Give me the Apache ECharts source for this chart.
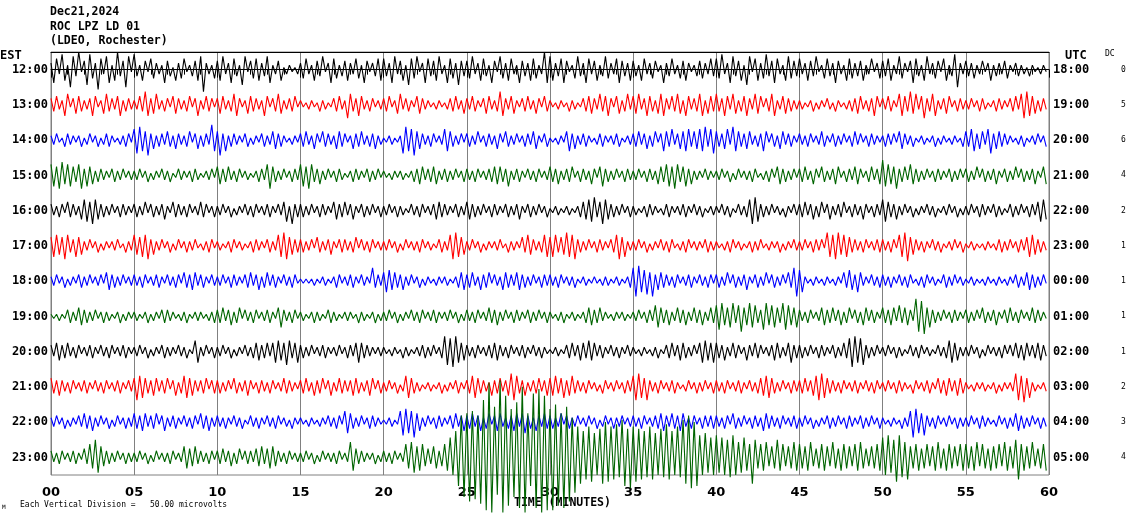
<!DOCTYPE html>
<html>
<head>
<meta charset="utf-8">
<script src="https://cdn.jsdelivr.net/npm/echarts@6/dist/echarts.min.js"></script>
<style>
	html, body { margin: 0; padding: 0; background: #fff; }
	#chart { width: 1130px; height: 519px; }
</style>
</head>
<body>
<div id="chart"></div>
<script>
// helicorder traces, one string per 5 minute division, one char per sample
// char -> amplitude step: 'a'..'z' = -1..-26, '0'..'9' = 0..9, 'A'..'Z' = 10..35 (positive = up)
const row12 = ['3f5b7e2h6c8a4g7d3i5b6f2e8c4h6a', '7c2e4a5d3b2f4c1e3d5a2c4e6j3b2d', '4e6b3f5c2g6a4d5e3c6f2b4e1b2a1b', '3d5b2e4c6a3f5d2c4e3b5d2f4a3c5e', '5c3f6b4e2g5d6a3f5c4e6b2f5d3g4c', '4d6b3e5c2f4a6d3e5b2f4c3e5d2b8f', '6e3c5f4a2d6c3f5b4e2c6d3b5f4c3e', '4c2e5b3d4a2f3c5b2d4e3a2c4d3b5c', '5d7b3f6c4e2g6a5e3d7c4f5b2e6d4c', '5b3e4c6a2d5c3f4b2e5d3c4e2b5a3d', '4c5e2b6d3a4f5c2e6b3d4a5e2c7h3b', '4c3d2b4a3e2c3b4d2a3c2b1c2a1b2a']
const row13 = ['3c4b2e5a3d4c2b3e4a2d5c3b4e2c3b', '2b4c6e3d5b2c3a4d3b2c4a3e2b4c3a', '3d4b2c5e3a2d4c3b2e4a3c5d2b3c4a', '2a1b2a1c2b1a3c4b2f5c3e4b2c3a2b', '3c4a2d5b3c2a4d3b2a1b2a1b3c4b2d', '3b4c2a3d4b2c6e3b4d2a3c4b2d3a4c', '2a1b2a1c2b1a3c4d3b5c4e3a4d2c5b', '4d5b3e4c2d5e3b4c5d2e4b3c5e2d4c', '5c3e4b5d2c4e3b5d4a3c5e2b4d3c2b', '2b1a2c1b2a3b1c2a1b2c3d4b2c3e4a', '3b4c2a5e4c6d5b4f3c5e2b3d4a2c3b', '2b3a2c3b1a2c3b2a3c4b5f6e4d2c3b']
const row14 = ['2b3a1c3b2a2c1b3a2c1b3c2a1b2c3a', '5f6e4g3d2c3b4c2d3b2c4a3d2c3b7e', '4g3e2c3b2a3c1b2a3c2b4d3c2a1b2a', '3c4b2d3a4c3b2d4c3a2d3c4b2c3d2b', '1a2b1a2f6e5g4d3b2c3a2b5e4c2b3a', '3c2b4a2c3b2d3a4c2b3a2c3b4d2a3c', '1a1b2a4e3d2b3c2a1b3c2a2b3c1a2b', '3c4b3d2c4a3e4c5b3d4e5c4d5e6c5f', '4c3d5b6e4c3d4b2c3e4a3c2d4b3c2a', '3b2c3a2b4c2a3c2b3a2c4b3a2c3b2a', '2c3b3a4d3b2c1a2b1a2c1b2a1b2a1c', '4c5e3d4b5f3d4c3b2a1b2c1a2b3a2c']
const row15 = ['5e4f6d5e4c5f3e4d2c3b2a3c2b3a2b', '2b3a2c1b2a3b2c1a3b2a2c3b1a2b3a', '4d3c4b2c3a2b1a2c3b5f4c2b3a2c3b', '5e4f5c3d2b3a2c3b1a2c3b2a3c2b3a', '2a1b2a2b1a2c3d4b3c4d2b3c2b3a2c', '3b2c3a2b3c4d4c3e2b3c2a3b2c3a2b', '4c3d2b3c4a2c3b2d3a4e3c2b3a2c3b', '2b3a2c3b2d4c5e4f5c4e3d2b2a3b2a', '2b3a2c1b3a2b2c3a1b2c3a4d3c2b3a', '3c4b2d3a4c2b3d4a2c3b4d3a2c4b3d', '7e5d4f3c4b5d3c2b3a2c3b2a3c2b3a', '3c2b4a3c2b3d2a3c2b4a3c2b3d2a4d']
const row16 = ['3b2c3a4c3b2d5e4f5d3c2b3a2c3b2a', '3c2b4a3c2b3d2a4c3b2c3a2b4c3a2c', '2b3a2c1b2a3b2c3a2b3c2a3b4e2f3c', '3c2b3a2c3b2a4d3c4b3d2a3c2b3a2c', '2b3a2c2b1a3b2c3a2b3d4c3b2a3c2b', '4d3c2b3a2c3b2a3c2b3d2a3c2b3a2c', '1a2b1a2b1a2c4d5e6c4f5d3c2b3a2c', '2b1a2c3b2a1b3c2a2b3c2a3b2c1a2b', '2a3b2c1a3b2c5f6e3c2b3a2b1c2a3b', '3c4b3d2c4a3d2b3c4a2c3b2d3a2c3b', '5e4c3d2b3a2c1b2a3b2c1a2b3a2c1b', '2b3a2c3b2a3c2b1a3c2b3a2c3b4e5d']
const row17 = ['4e5d4f5c3e4d2b3a2c1b2a2b3a1c2b', '5d4e5f3d2b3a2c1b3a2c2b3a1b2c3a', '2b1a2c3a2b1a2c3b2a3c2b5e6f4d3c', '3c2b3a4c2b3d2a3c3b2c4a3b2c3a2b', '2b3a2c1b3a2b2c3a2b1a3c2b5f6e4d', '2b3a2c1b2a2b3a1c2b2a4c5d3b2c5e', '4e5c4d6e5f3c2b3a2c3b2a3c5f4e2b', '2b3a2c1b2a3b2c3a1b2c3a2b2a3c2b', '2a1b2c3a2b1a2c2b3a1b2a2c1b2a3b', '2b3a2c3b3a6e5f6d5e4c3b2c3a2b3c', '3b2c3a5e6g4d3b2c2a3b2c1a2b3a2c', '1a2b1a1b2a1b3c2b3a2c3b4e5d3c2b']
const row18 = ['2b3a2c1b2a3c2b3a2b3a4d3c2b3a2b', '3b2c3a2b3c2a3b2c3a4c3d4b3c2a3b', '2b3a2c3b2a3c4b3d2c4b3c2a3b2c3a', '1a1a1b1a2b1a2c3a2b3c2a3b2a6c3b', '4e5d4c3d2b3a2c1b2a1b2a2b1a2c4d', '3c4b2d3c4a3b2d4c3b4d3c2b3a2c3b', '3b2c3a2b2c1a2b1a2a1b2b1a2b1a2c', '6g7e5f4g3d4c3b2c3a2b3c2a3b2c3a', '3c2b4a3c2b3d2a3c2b4a3c2b3a4c6g', '5e2a1b2a1b2a1b2a4c5d3e4b2a3b2c', '3b2c2a3b2c3a1b2c3a2b1a3c2b3a2b', '1a2b1a1b2a1b2a1b2a3c2b4d3c2b3a']
const row19 = ['1a1b1a3c2b4d3c2b3a2c2b1a2c1b2a', '2b1a2c1b2a3c3b2a1b2c1a2b2a1b2c', '3c4b3d2c4a3b2c3a2b3c2a4e3b2c3a', '2b1a2c2b1a3c2b1a2b2a1c2b1a2c1b', '2b3a2c1b2a3b2c3a2b3c2a2b3a2c1b', '3b2c3a2b4c3d2b3a2c3b2a3c2b3a2c', '2a1b2c1a2b1a2c4d3c4b2a1b2a2b1a', '2b3a2c3b5e4c3d2b4c3d2b4c3d2b4c', '5f6d4e6c5g4d6e5c3f6d5e4c6f5d4e', '3b2c3a2b4d3c4b3d2c4a3c2d4b3c2a', '4c3d4b5c4d3b8g7h4e3c2b3a2c3b2a', '3c2b3a4c2b3d2a3c4b2c3a2b4c3b2a']
const row20 = ['3b4d3c4b2c3a2b3c2a3b2c3a2b3c2a', '2b3a2c1b2a3c2b2a3b2c1a5e2b3a2c', '2b3a2c1b2a3b2c4d3c4b4e5d4f5c4e', '3c2b3a2b3c2a2b3a2c3b4e4c3b2a2b', '2a1b2a1c2b1a2b3c2b3a2c7f6g7e4d', '3b2c3a2b3c4d3b2c3a2b3c2a3b2c2a', '1a2b1a3c4b3d4c5d4b3c2a3b2c2a3b', '2a1b2a1b2c1a3c4b3d4c2b3a4e5d4e', '4c3d2b4c3a2d3b4c3a2b3d4c2b4e3c', '3c2b3a2c3b2a3c2b4c6g7e6f3c2b3a', '2b3a2c2b1a3b2c3a2b1a3b2c5e4d2b', '2b3a2c1b3a2b2c3a3b4c3d4b3c4d3b']
const row21 = ['4c3d3b2c3a2b3c2a3b2c3a2b3c2a3b', '4f5e4c3d4b3c4a3d2c5e4d3b3c4a3c', '3c2b3a4c2b3d3a2c3b2c3a2b4c3b2a', '3c4b2d3c4a3d2b4c3b3d4c2b3d4a3c', '2b3a2c1b5e4c2b1a2b1a2c1b2a3c2a', '3c5e4c3b2d3c4b3d6f5c3d2b3c4b3d', '4d5c4e3d5c3b2c3a2b1c3a2b3a2c3b', '5f6e4f3b2c3a2b3c2a1b3a2c2b3a2c', '3b2c3a2b3c2a3b2c4d5e4c2b3a2c3b', '3c4b3d5f6e4c3b2c3a2b3c2a3b2c3a', '2b3a2c3b2a1c3a2b3c2a4c3d4b3d4c', '2a1b2a2b1a2c1b2a2b6f5g4e2b1a2b']
const row22 = ['2b3a2c1b2a3b4c3d2b3a2c1b3a2c2b', '4c3d4b3c4a3d2b3c2a3b2c3a4c3d2b', '3b2c2a3b2c1a3b2c2a3b2c3a2b1c2a', '2a1b2a1b2a3b2c3a5e4c2b3a2c3b2a', '1a2b1a5f6e5g4d2b3a2c3b2a3c4b3d', '3c4b3d2c4a3d4b2c3d4b4e3c2d3b4c', '3c2b4a3c2b3a2b3a2c1b3a2c2b3a2b', '3b2c3a2b3c4d3b4c3d4b2c3a2c3b3c', '3b2c3a4c2b3a2c3b2d4c3b2c3a2b3c', '2b3a2c1b2a3c2b3a2c3b2a3c2b3a2c', '2a1b2a1c2b5g6e4f3b2c3a2b3a2c2b', '2b3a2c3b2a1b3a2c2b4d3c2b3a2c2b']
const row23 = ['3b2c3a2b3c2a4c6e8g5d3c2b3a2c2b', '2b3a2c1b3a2b2c3a2b5e4d5c3b2c3a', '3c4b3d2c4a3c3b4d5c4e5d3b2c3a2b', '2b3a2c1b3a2b2c3a2b7f4c3b2a2c1b', '3b2c3a2b6e7g5f6d4c5e3d6f9hCmJr', 'KtLsJuQxYyNqZySvMrPwWyKmTwVySx', 'MxOvKwNtIpElCjEkBhDlGkEjFiHmDn', 'EkDjCiEjBhDiFjChEiHlJnGmAhBg9h', 'Ag9h8iAh7g9f6l8e6f7d5e8f6d5e7f', '6e5f7d4e6f5d7e4f6e5d6f7e4d5e6f', '9hAg8kAi7j5e6f4e6d5f7e4f6e5d6f', '6e5f7d6e4f5e6d7f5e8j6f5e7d4e6f']

const estLabels = ['12:00', '13:00', '14:00', '15:00', '16:00', '17:00', '18:00', '19:00', '20:00', '21:00', '22:00', '23:00']
const utcLabels = ['18:00', '19:00', '20:00', '21:00', '22:00', '23:00', '00:00', '01:00', '02:00', '03:00', '04:00', '05:00']
const dcValues = ['0', '5', '6', '4', '2', '1', '1', '1', '1', '2', '3', '4']
const traceColors = ['#000000', '#ff0000', '#0000ff', '#006400']

const SYM = 'zyxwvutsrqponmlkjihgfedcba0123456789ABCDEFGHIJKLMNOPQRSTUVWXYZ'
const ROW_STEP = 16 // amplitude steps between two rows

const rows = [row12, row13, row14, row15, row16, row17, row18, row19, row20, row21, row22, row23]

const toPoints = (chunks, r) => {
	const pts = []
	chunks.forEach((s, c) => {
		for (let i = 0; i < s.length; i++) {
			const v = SYM.indexOf(s[i]) - 26
			pts.push([5 * c + (5 * i) / s.length, r * ROW_STEP - v])
		}
	})
	return pts
}

const series = rows.map((chunks, r) => ({
	name: estLabels[r],
	type: 'line',
	xAxisIndex: 0,
	yAxisIndex: 0,
	data: toPoints(chunks, r),
	showSymbol: false,
	symbol: 'none',
	clip: false,
	lineStyle: { color: traceColors[r % 4], width: 1.1 },
	emphasis: { disabled: true },
	animation: false,
}))

const mono = '"DejaVu Sans Mono", monospace'
const txt = (text, x, y, size, align) => ({
	type: 'text',
	style: {
		text,
		x,
		y,
		fill: '#000',
		font: `bold ${size}px ${mono}`,
		textAlign: align || 'left',
		align: align || 'left',
		textVerticalAlign: 'middle',
		verticalAlign: 'middle',
	},
})

const chart = echarts.init(document.getElementById('chart'), null, { renderer: 'canvas' })
const option = {
	animation: false,
	backgroundColor: '#ffffff',
	grid: {
		left: 51,
		right: 81,
		top: 52,
		bottom: 44,
		show: true,
		borderColor: '#808080',
		borderWidth: 1,
	},
	xAxis: [
		{
			type: 'value',
			position: 'bottom',
			min: 0,
			max: 60,
			interval: 5,
			axisLine: { show: true, lineStyle: { color: '#000', width: 1 } },
			axisTick: { show: true, length: 8, lineStyle: { color: '#000' } },
			minorTick: { show: true, splitNumber: 5, length: 5, lineStyle: { color: '#000' } },
			splitLine: { show: true, lineStyle: { color: '#808080', width: 1 } },
			axisLabel: {
				color: '#000',
				fontSize: 13,
				fontWeight: 'bold',
				fontFamily: '"DejaVu Sans", sans-serif',
				margin: 11,
				formatter: v => String(v).padStart(2, '0'),
			},
		},
		{
			type: 'value',
			position: 'top',
			min: 0,
			max: 60,
			axisLine: { show: true, lineStyle: { color: '#000', width: 1 } },
			axisTick: { show: false },
			axisLabel: { show: false },
			splitLine: { show: false },
		},
	],
	yAxis: [
		{
			type: 'value',
			min: -8,
			max: 12 * ROW_STEP - 8,
			inverse: true,
			show: false,
		},
		{
			type: 'category',
			data: estLabels,
			position: 'left',
			inverse: true,
			axisLine: { show: false },
			axisTick: { show: false },
			splitLine: { show: false },
			axisLabel: { color: '#000', fontFamily: mono, fontWeight: 'bold', fontSize: 12, margin: 3 },
		},
		{
			type: 'category',
			data: utcLabels,
			position: 'right',
			inverse: true,
			axisLine: { show: false },
			axisTick: { show: false },
			splitLine: { show: false },
			axisLabel: { color: '#000', fontFamily: mono, fontWeight: 'bold', fontSize: 12, margin: 4 },
		},
		{
			type: 'category',
			data: dcValues,
			position: 'right',
			offset: 70,
			inverse: true,
			axisLine: { show: false },
			axisTick: { show: false },
			splitLine: { show: false },
			axisLabel: { color: '#000', fontFamily: mono, fontSize: 8, margin: 2 },
		},
	],
	graphic: [
		txt('Dec21,2024', 50, 12, 11.5),
		txt('ROC LPZ LD 01', 50, 27, 11.5),
		txt('(LDEO, Rochester)', 50, 41, 11.5),
		txt('EST', 0, 56, 12),
		txt('UTC', 1065, 56, 12),
		{ type: 'text', style: { text: 'DC', x: 1105, y: 54, fill: '#000', font: `8px ${mono}`, verticalAlign: 'middle', textVerticalAlign: 'middle' } },
		txt('TIME (MINUTES)', 514, 503, 11.5),
		{ type: 'text', style: { text: 'Each Vertical Division =   50.00 microvolts', x: 20, y: 505, fill: '#000', font: `8px ${mono}`, verticalAlign: 'middle', textVerticalAlign: 'middle' } },
		{ type: 'text', style: { text: 'M', x: 2, y: 507, fill: '#000', font: `6px ${mono}`, verticalAlign: 'middle', textVerticalAlign: 'middle' } },
	],
	series,
}
chart.setOption(option)
</script>
</body>
</html>
